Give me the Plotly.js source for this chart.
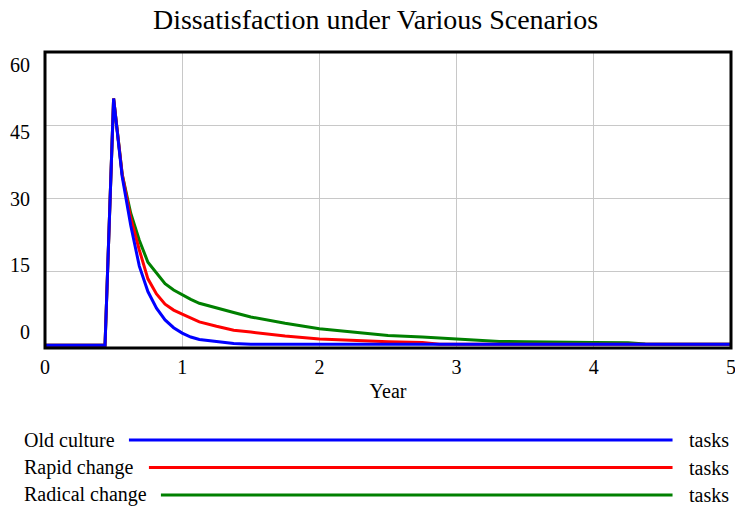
<!DOCTYPE html>
<html>
<head>
<meta charset="utf-8">
<script src="https://cdn.plot.ly/plotly-3.0.1.min.js"></script>
</head>
<body style="margin:0">
<div id="chart" style="width:735px;height:508px"></div>
<script>
// ---- data ----
var chartTitle = "Dissatisfaction under Various Scenarios";
var xTitle = "Year";
var time = [0, 0.4375, 0.5, 0.5625, 0.625, 0.6875, 0.75, 0.8125, 0.875, 0.9375, 1.0, 1.0625, 1.125, 1.25, 1.375, 1.5, 1.75, 2.0, 2.25, 2.5, 2.75, 2.875, 3.0, 3.25, 3.3125, 3.5, 3.75, 4.0, 4.25, 4.375, 4.5, 5.0];
var oldCulture = [0, 0, 50.5, 34.5, 24.5, 16.2, 11, 7.6, 5.2, 3.6, 2.5, 1.7, 1.2, 0.7, 0.35, 0.2, 0.2, 0.2, 0.2, 0.2, 0.2, 0.2, 0.2, 0.2, 0.2, 0.2, 0.2, 0.2, 0.2, 0.2, 0.2, 0.2];
var rapidChange = [0, 0, 50.5, 35, 26, 19.5, 13.6, 10.5, 8.4, 7.2, 6.4, 5.6, 4.8, 3.9, 3.1, 2.7, 1.9, 1.3, 0.95, 0.75, 0.6, 0.2, 0.2, 0.2, 0.2, 0.2, 0.2, 0.2, 0.2, 0.2, 0.2, 0.2];
var radicalChange = [0, 0, 50.5, 35, 27, 21.5, 17, 14.7, 12.6, 11.3, 10.3, 9.4, 8.6, 7.6, 6.7, 5.8, 4.5, 3.4, 2.7, 2.0, 1.7, 1.5, 1.3, 1.0, 0.8, 0.75, 0.6, 0.55, 0.5, 0.25, 0.2, 0.2];
var seriesNames = ["Old culture", "Rapid change", "Radical change"];
var seriesUnits = ["tasks", "tasks", "tasks"];
var xTickVals = [0, 1, 2, 3, 4, 5];
var yTickVals = [0, 15, 30, 45, 60];

// ---- styling / layout ----
var colors = ["#0000ff", "#ff0000", "#008000"];
var W = 735, H = 508;
var mL = 45, mR = 3.5, mT = 52, mB = 160;
var plotW = W - mL - mR, plotH = H - mT - mB;
function px2paperX(p) { return (p - mL) / plotW; }
function px2paperY(p) { return (H - mB - p) / plotH; }
function tf(size) { return {family: 'Liberation Serif', size: size, color: '#000000'}; }

var seriesData = [oldCulture, rapidChange, radicalChange];
var traces = [];
for (var i = seriesData.length - 1; i >= 0; i--) {
  traces.push({
    x: time, y: seriesData[i], type: 'scatter', mode: 'lines',
    name: seriesNames[i], line: {color: colors[i], width: 3},
    showlegend: false, hoverinfo: 'skip'
  });
}

var annotations = [];
yTickVals.forEach(function (v) {
  annotations.push({
    xref: 'paper', yref: 'y', x: 0, y: v, xanchor: 'right', yanchor: 'middle',
    xshift: -13, yshift: -(v - 30) * 0.447,
    text: String(v), showarrow: false, font: tf(20)
  });
});
var legendRows = [440, 467.5, 495];
var lineStarts = [129, 149, 161];
seriesNames.forEach(function (n, i) {
  annotations.push({
    xref: 'paper', yref: 'paper', x: px2paperX(22), y: px2paperY(legendRows[i]),
    xanchor: 'left', yanchor: 'middle', text: n, showarrow: false, font: tf(20)
  });
  annotations.push({
    xref: 'paper', yref: 'paper', x: px2paperX(687), y: px2paperY(legendRows[i]),
    xanchor: 'left', yanchor: 'middle', text: seriesUnits[i], showarrow: false, font: tf(20)
  });
});
var shapes = [];
seriesNames.forEach(function (n, i) {
  shapes.push({
    type: 'line', xref: 'paper', yref: 'paper',
    x0: px2paperX(lineStarts[i]), x1: px2paperX(673),
    y0: px2paperY(legendRows[i]), y1: px2paperY(legendRows[i]),
    line: {color: colors[i], width: 3}
  });
});
shapes.push({type: 'rect', xref: 'paper', yref: 'paper', x0: 0, x1: 1, y0: 0, y1: 1,
  line: {color: '#000', width: 3}, layer: 'above'});

var layout = {
  width: W, height: H,
  margin: {l: mL, r: mR, t: mT, b: mB, pad: 0},
  paper_bgcolor: '#fff', plot_bgcolor: '#fff',
  title: {text: chartTitle, font: tf(28),
          xref: 'container', yref: 'container', x: 375.5 / W, xanchor: 'center',
          y: 1 - 19 / H, yanchor: 'middle'},
  xaxis: {
    range: [0, 5], tickvals: xTickVals, ticktext: xTickVals.map(String),
    showgrid: true, gridcolor: '#c8c8c8', gridwidth: 1, zeroline: false,
    showline: false, ticks: '', ticklabelstandoff: 5, ticklabeloverflow: 'allow',
    tickfont: tf(20),
    title: {text: xTitle, font: tf(20), standoff: 6}
  },
  yaxis: {
    range: [-0.55, 60], tickvals: [15, 30, 45], showticklabels: false,
    showgrid: true, gridcolor: '#c8c8c8', gridwidth: 1, zeroline: false,
    showline: false, ticks: ''
  },
  annotations: annotations,
  shapes: shapes,
  showlegend: false
};

Plotly.newPlot('chart', traces, layout, {displayModeBar: false});
</script>
</body>
</html>
